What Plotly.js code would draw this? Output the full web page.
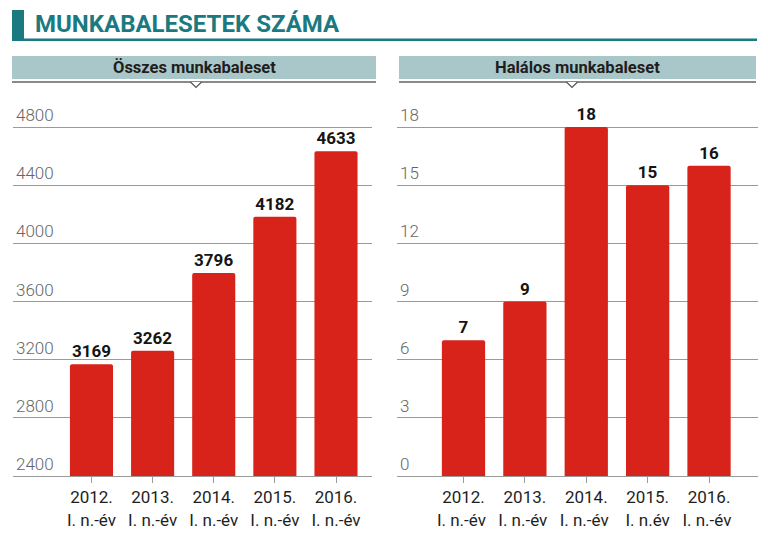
<!DOCTYPE html>
<html>
<head>
<meta charset="utf-8">
<script src="https://cdn.plot.ly/plotly-3.0.1.min.js"></script>
<style>
html,body{margin:0;padding:0;background:#fff;}
#chart{width:768px;height:533px;}
</style>
</head>
<body>
<div id="chart"></div>
<script>
// ---- data ----
const catsTotal = ["2012.<br>I. n.-év", "2013.<br>I. n.-év", "2014.<br>I. n.-év", "2015.<br>I. n.-év", "2016.<br>I. n.-év"];
const valuesTotal = [3169, 3262, 3796, 4182, 4633];
const catsFatal = ["2012.<br>I. n.-év ", "2013.<br>I. n.-év ", "2014.<br>I. n.-év ", "2015.<br>I. n.év", "2016.<br>I. n.-év "];
const valuesFatal = [7, 9, 18, 15, 16];
const ticksTotal = [2400, 2800, 3200, 3600, 4000, 4400, 4800];
const ticksFatal = [0, 3, 6, 9, 12, 15, 18];
const mainTitle = "MUNKABALESETEK SZÁMA";
const subTitleLeft = "Összes munkabaleset";
const subTitleRight = "Halálos munkabaleset";

// ---- layout helpers ----
const W = 768, H = 533;
const px = v => v / W;
const py = v => 1 - v / H;

const RED = "#d8231b";
const TEAL = "#1b7a80";
const BOX = "#a9c6c9";
const GRID = "#9a9a9a";
const FONT = "Roboto, 'Open Sans', sans-serif";

const barCommon = {
  type: "bar",
  marker: {color: RED, cornerradius: 2},
  textposition: "outside",
  cliponaxis: false,
  textfont: {family: FONT, size: 17, color: "#151515", weight: 700},
  hoverinfo: "skip"
};

const traces = [
  Object.assign({}, barCommon, {
    x: catsTotal, y: valuesTotal, text: valuesTotal.map(String),
    xaxis: "x", yaxis: "y"
  }),
  Object.assign({}, barCommon, {
    x: catsFatal, y: valuesFatal, text: valuesFatal.map(String),
    xaxis: "x2", yaxis: "y2"
  })
];

// plot area: bottom value at y=476px, top tick at y=127px; range padded above top tick
// so that the top tick label (drawn inside, above its line) stays visible
const pad = 22;
const yDomain = [57 / H, (406 + pad) / H];
const padUnits = (span) => span * pad / 349;

function xAxis(domain, range) {
  return {
    domain: domain, range: range, type: "category",
    showgrid: false, zeroline: false,
    showline: true, linecolor: GRID, linewidth: 1,
    ticks: "outside", ticklen: 6, tickcolor: GRID, tickwidth: 1,
    tickfont: {family: FONT, size: 17, color: "#1e1e1e"},
    fixedrange: true
  };
}
function yAxis(anchor, lo, hi, ticks) {
  return {
    anchor: anchor, domain: yDomain, range: [lo, hi + padUnits(hi - lo)],
    tickmode: "array", tickvals: ticks, ticktext: ticks.map(String),
    showgrid: true, gridcolor: GRID, gridwidth: 1, zeroline: false,
    showline: false, ticks: "",
    ticklabelposition: "inside top",
    ticklabelstandoff: 0,
    tickfont: {family: FONT, size: 17, color: "#666", weight: 300},
    fixedrange: true
  };
}

function chevron(cx) {
  const y0 = 82, y1 = 87.5, d = 5.5;
  return {
    type: "path", xref: "paper", yref: "paper",
    path: `M ${px(cx - d)} ${py(y0)} L ${px(cx)} ${py(y1)} L ${px(cx + d)} ${py(y0)}`,
    line: {color: "#555", width: 1.2}, fillcolor: "rgba(255,255,255,1)"
  };
}
function rect(x0, y0, x1, y1, color) {
  return {type: "rect", xref: "paper", yref: "paper",
    x0: px(x0), x1: px(x1), y0: py(y1), y1: py(y0),
    fillcolor: color, line: {width: 0}, layer: "above"};
}

const layout = {
  width: W, height: H,
  margin: {l: 0, r: 0, t: 0, b: 0},
  paper_bgcolor: "#fff", plot_bgcolor: "rgba(0,0,0,0)",
  showlegend: false,
  bargap: 0.295,
  font: {family: FONT},
  xaxis: xAxis([13 / W, 372 / W], [-1.284, 4.589]),
  yaxis: yAxis("x", 2400, 4800, ticksTotal),
  xaxis2: xAxis([397 / W, 758 / W], [-1.0835, 4.798]),
  yaxis2: yAxis("x2", 0, 18, ticksFatal),
  shapes: [
    rect(12, 10, 24, 40, TEAL),
    rect(12, 38.5, 757, 41, TEAL),
    rect(12, 56, 376, 79, BOX),
    rect(399, 56, 756, 79, BOX),
    {type: "line", xref: "paper", yref: "paper", x0: px(12), x1: px(376), y0: py(82), y1: py(82), line: {color: "#8a8a8a", width: 2}},
    {type: "line", xref: "paper", yref: "paper", x0: px(399), x1: px(756), y0: py(82), y1: py(82), line: {color: "#8a8a8a", width: 2}},
    chevron(196),
    chevron(572)
  ],
  annotations: [
    {text: "<b>" + mainTitle + "</b>", xref: "paper", yref: "paper", x: px(33), y: py(24.5),
     xanchor: "left", yanchor: "middle", showarrow: false,
     font: {family: FONT, size: 24, color: TEAL}},
    {text: "<b>" + subTitleLeft + "</b>", xref: "paper", yref: "paper", x: px(194), y: py(67.5),
     xanchor: "center", yanchor: "middle", showarrow: false,
     font: {family: FONT, size: 16.5, color: "#1e1e1e"}},
    {text: "<b>" + subTitleRight + "</b>", xref: "paper", yref: "paper", x: px(577), y: py(67.5),
     xanchor: "center", yanchor: "middle", showarrow: false,
     font: {family: FONT, size: 16.5, color: "#1e1e1e"}}
  ]
};

Plotly.newPlot("chart", traces, layout, {displayModeBar: false, staticPlot: true});
</script>
</body>
</html>
